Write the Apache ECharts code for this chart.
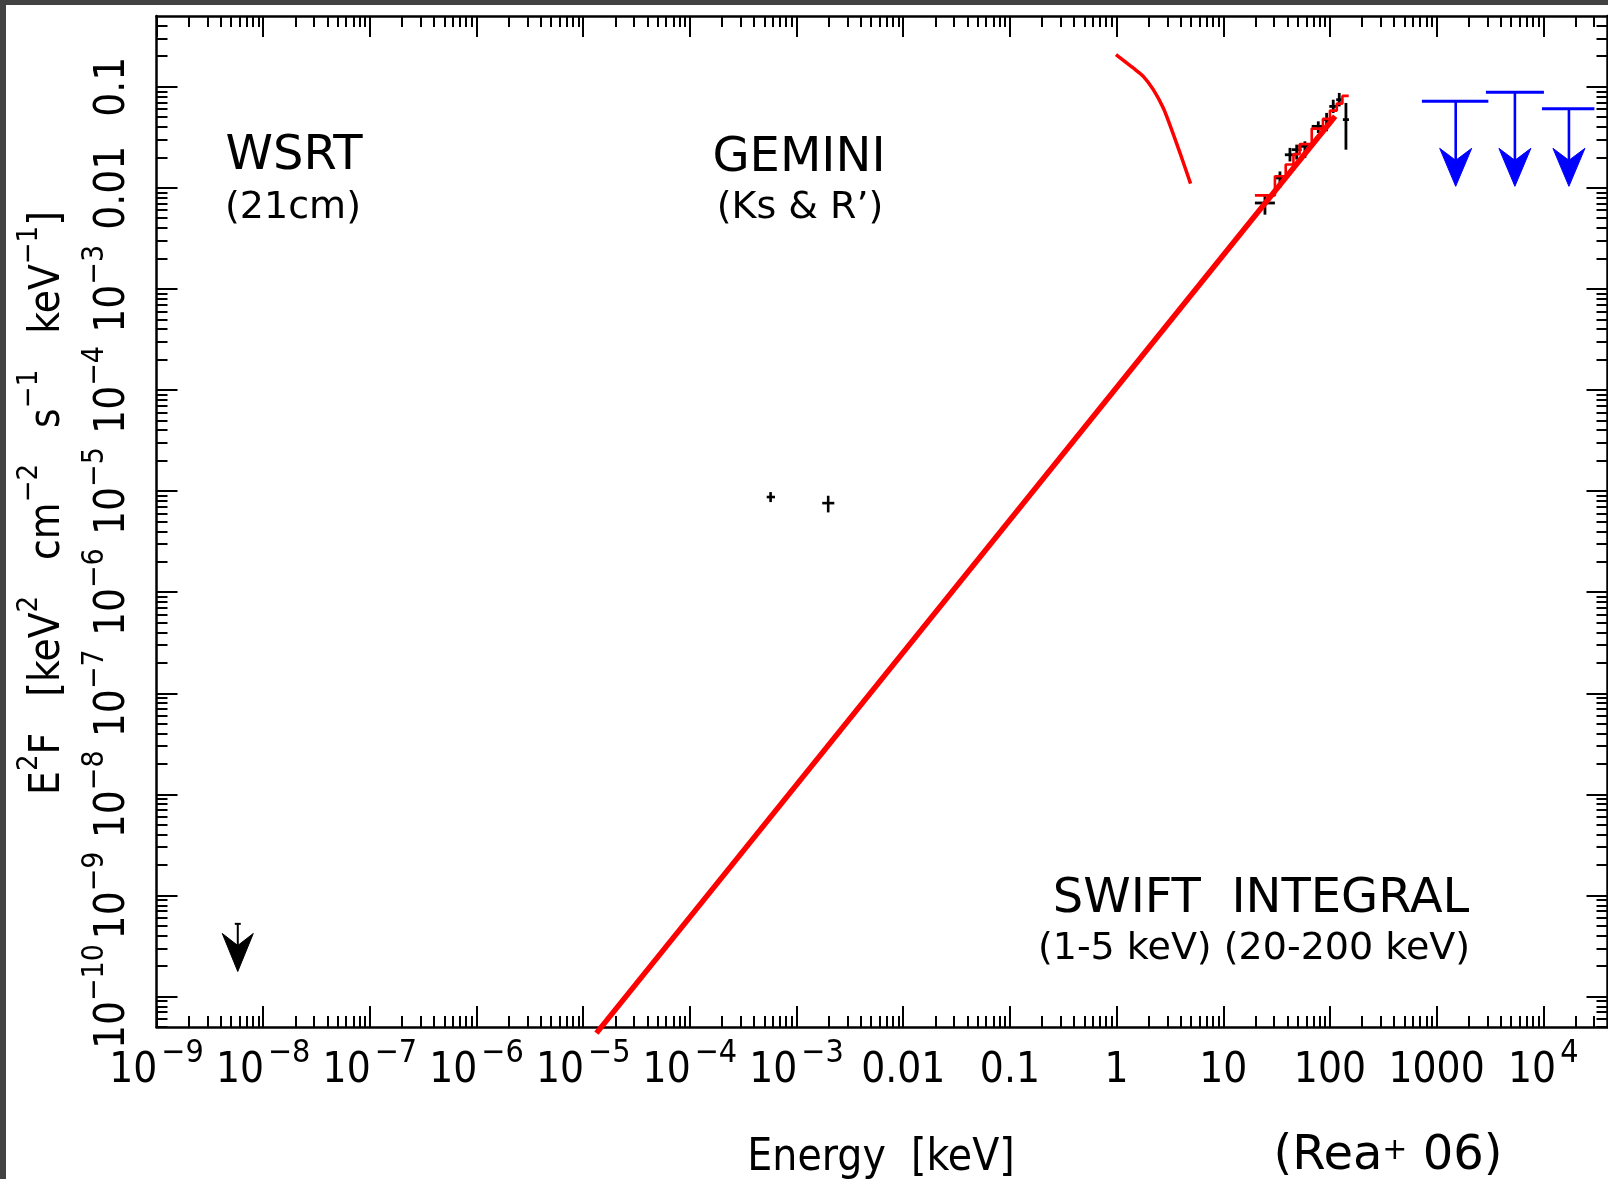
<!DOCTYPE html>
<html><head><meta charset="utf-8">
<script src="https://cdn.jsdelivr.net/npm/echarts@6.0.0/dist/echarts.min.js"></script>
<style>
html,body{margin:0;padding:0;background:#424242;width:1608px;height:1179px;overflow:hidden;}
#paper{position:absolute;left:6px;top:5px;width:1602px;height:1174px;background:#fff;}
#chart{position:absolute;left:0;top:0;width:1608px;height:1179px;}
</style></head>
<body><div id="paper"></div><div id="chart"></div>
<script>
// ---------------- data ----------------
const xRange = [1e-9, 4e4];
const yRange = [5e-11, 0.5];

const xTickExp = [-9, -8, -7, -6, -5, -4, -3, -2, -1, 0, 1, 2, 3, 4];
const xTickLabels = ['10{s|\u22129}', '10{s|\u22128}', '10{s|\u22127}', '10{s|\u22126}', '10{s|\u22125}', '10{s|\u22124}', '10{s|\u22123}', '0.01', '0.1', '1', '10', '100', '1000', '10{s|4}'];
const yTickExp = [-10, -9, -8, -7, -6, -5, -4, -3, -2, -1];
const yTickLabels = ['10{s|\u221210}', '10{s|\u22129}', '10{s|\u22128}', '10{s|\u22127}', '10{s|\u22126}', '10{s|\u22125}', '10{s|\u22124}', '10{s|\u22123}', '0.01', '0.1'];

// power-law model (thick red line)
const plE = [1.33e-5, 112];
const plF = [4.35e-11, 0.051];

// soft X-ray model curve (1-5 keV)
const softE = [0.987, 1.43, 1.78, 2.21, 2.74, 3.28, 3.93, 4.94];
const softF = [0.2075, 0.153, 0.1265, 0.0934, 0.0615, 0.0376, 0.0221, 0.011];

// folded model step histogram (20-200 keV)
const stepEdges = [19.8, 30.5, 38.5, 45.5, 52, 67.5, 86, 100, 116, 131, 150];
const stepF = [0.0084, 0.0130, 0.0170, 0.0215, 0.0270, 0.0385, 0.048, 0.058, 0.068, 0.081];

// hard X-ray data points (crosses)
const hxE   = [24.6, 34.0, 42.2, 48.8, 58.3, 77.8, 93.1, 107.4, 122.3, 141.3];
const hxElo = [19.8, 30.5, 37.8, 43.8, 50.5, 67.5, 85.5, 98.6, 114.5, 132.3];
const hxEhi = [30.5, 39.3, 47.0, 54.3, 67.5, 86.5, 101.6, 117.2, 130.3, 150.7];
const hxF   = [7.07e-3, 0.0125, 0.0212, 0.0238, 0.0257, 0.0405, 0.0472, 0.0638, 0.0743, 0.0472];
const hxFlo = [5.42e-3, 9.95e-3, 0.0182, 0.0190, 0.0197, 0.0348, 0.0362, 0.0550, 0.0638, 0.0238];
const hxFhi = [8.55e-3, 0.0145, 0.0248, 0.0267, 0.0288, 0.0454, 0.0550, 0.0743, 0.0867, 0.069];

// GEMINI points
const gemE   = [5.71e-4, 1.98e-3];
const gemElo = [5.25e-4, 1.74e-3];
const gemEhi = [6.28e-4, 2.26e-3];
const gemF   = [8.73e-6, 7.6e-6];
const gemFlo = [7.78e-6, 6.15e-6];
const gemFhi = [9.77e-6, 8.99e-6];

// WSRT upper limit
const wsrtE = [5.78e-9];
const wsrtUL = [5.24e-10];
const wsrtTip = [1.77e-10];

// INTEGRAL upper limits
const intE   = [1510, 5420, 17400];
const intElo = [728, 2900, 9720];
const intEhi = [3055, 10140, 30150];
const intUL  = [0.0716, 0.0879, 0.0606];
const intTip = [0.01033, 0.01033, 0.01033];

// ---------------- chart ----------------
const LABEL_FONT = "'DejaVu Sans Condensed', 'DejaVu Sans', sans-serif";
const TEXT_FONT = "'DejaVu Sans', Verdana, sans-serif";
const GRID = {left: 156.5, top: 16, width: 1451, height: 1011, outerBoundsMode: 'none', containLabel: false};

const lxR = [Math.log10(xRange[0]), Math.log10(xRange[1])];
const lyR = [Math.log10(yRange[0]), Math.log10(yRange[1])];

const minorX = [];
for (let n = -9; n <= 4; n++) for (let k = 2; k <= 9; k++) {
  const v = Math.log10(k) + n;
  if (v <= lxR[1] + 1e-9) minorX.push(v);
}
const minorY = [];
for (let n = -11; n <= -1; n++) for (let k = 2; k <= 9; k++) {
  const v = Math.log10(k) + n;
  if (v >= lyR[0] - 1e-9 && v <= lyR[1] + 1e-9) minorY.push(v);
}

function findLabel(exps, labels, v) {
  const i = exps.findIndex(e => Math.abs(e - v) < 1e-6);
  return i >= 0 ? labels[i] : '';
}

function tickAxis(gridIndex, position, range, ticks, len, showLine, label) {
  return {
    gridIndex, type: 'value', position, min: range[0], max: range[1],
    splitLine: {show: false},
    axisLine: {show: showLine, onZero: false, lineStyle: {color: '#000', width: 2.5}},
    axisTick: {show: true, inside: true, length: len, customValues: ticks, lineStyle: {color: '#000', width: 2}},
    axisLabel: label || {show: false}
  };
}

const xLabel = {
  show: true, customValues: xTickExp, margin: 11,
  fontFamily: LABEL_FONT, fontSize: 42, lineHeight: 66, color: '#000',
  formatter: v => findLabel(xTickExp, xTickLabels, v),
  rich: {s: {fontFamily: LABEL_FONT, fontSize: 32, lineHeight: 32, verticalAlign: 'top', padding: [0, 0, 0, 4], color: '#000'}}
};
const yLabel = {
  show: true, customValues: yTickExp, margin: 10, rotate: 90,
  fontFamily: LABEL_FONT, fontSize: 42, lineHeight: 66, color: '#000',
  formatter: v => findLabel(yTickExp, yTickLabels, v),
  rich: {s: {fontFamily: LABEL_FONT, fontSize: 30, lineHeight: 30, verticalAlign: 'top', color: '#000'}}
};

const grids = [0, 1, 2, 3, 4].map(() => Object.assign({}, GRID));

const xAxes = [
  {gridIndex: 0, type: 'log', min: xRange[0], max: xRange[1], show: false},
  tickAxis(1, 'bottom', lxR, xTickExp, 21, true, xLabel),
  tickAxis(2, 'bottom', lxR, minorX, 11, false),
  tickAxis(3, 'top', lxR, xTickExp, 21, true),
  tickAxis(4, 'top', lxR, minorX, 11, false)
];
const yAxes = [
  {gridIndex: 0, type: 'log', min: yRange[0], max: yRange[1], show: false},
  tickAxis(1, 'left', lyR, yTickExp, 21, true, yLabel),
  tickAxis(2, 'left', lyR, minorY, 11, false),
  tickAxis(3, 'right', lyR, yTickExp, 21, true),
  tickAxis(4, 'right', lyR, minorY, 11, false)
];

function crossRender(color, width) {
  return function (params, api) {
    const xl = api.coord([api.value(1), api.value(3)]);
    const xh = api.coord([api.value(2), api.value(3)]);
    const yl = api.coord([api.value(0), api.value(4)]);
    const yh = api.coord([api.value(0), api.value(5)]);
    const style = {stroke: color, lineWidth: width};
    return {type: 'group', children: [
      {type: 'line', shape: {x1: xl[0], y1: xl[1], x2: xh[0], y2: xh[1]}, style},
      {type: 'line', shape: {x1: yl[0], y1: yl[1], x2: yh[0], y2: yh[1]}, style}
    ]};
  };
}

function arrowHead(tip, halfW, h, notch, color) {
  return {type: 'polygon', shape: {points: [
    [tip[0], tip[1]], [tip[0] - halfW, tip[1] - h], [tip[0], tip[1] - h + notch], [tip[0] + halfW, tip[1] - h]
  ]}, style: {fill: color, stroke: color, lineWidth: 1}};
}

const hxData = hxE.map((e, i) => [e, hxElo[i], hxEhi[i], hxF[i], hxFlo[i], hxFhi[i]]);
const gemData = gemE.map((e, i) => [e, gemElo[i], gemEhi[i], gemF[i], gemFlo[i], gemFhi[i]]);
const wsrtData = wsrtE.map((e, i) => [e, wsrtUL[i], wsrtTip[i]]);
const intData = intE.map((e, i) => [e, intElo[i], intEhi[i], intUL[i], intTip[i]]);
const stepData = stepEdges.map((e, i) => [e, stepF[Math.min(i, stepF.length - 1)]]);
const softData = softE.map((e, i) => [e, softF[i]]);
const plData = plE.map((e, i) => [e, plF[i]]);

const series = [
  {type: 'custom', name: 'hard X-ray data', xAxisIndex: 0, yAxisIndex: 0, data: hxData,
   encode: {x: [0, 1, 2], y: [3, 4, 5]}, renderItem: crossRender('#000', 2.8), silent: true},
  {type: 'custom', name: 'GEMINI', xAxisIndex: 0, yAxisIndex: 0, data: gemData,
   encode: {x: [0, 1, 2], y: [3, 4, 5]}, renderItem: crossRender('#000', 2.6), silent: true},
  {type: 'custom', name: 'WSRT', xAxisIndex: 0, yAxisIndex: 0, data: wsrtData,
   encode: {x: 0, y: [1, 2]}, silent: true,
   renderItem: function (params, api) {
     const top = api.coord([api.value(0), api.value(1)]);
     const tip = api.coord([api.value(0), api.value(2)]);
     const st = {stroke: '#000', lineWidth: 2};
     return {type: 'group', children: [
       {type: 'line', shape: {x1: top[0] - 3, y1: top[1], x2: top[0] + 3, y2: top[1]}, style: st},
       {type: 'line', shape: {x1: top[0], y1: top[1], x2: tip[0], y2: tip[1] - 20}, style: st},
       arrowHead(tip, 15.5, 38, 12, '#000')
     ]};
   }},
  {type: 'custom', name: 'INTEGRAL', xAxisIndex: 0, yAxisIndex: 0, data: intData,
   encode: {x: [0, 1, 2], y: [3, 4]}, silent: true,
   renderItem: function (params, api) {
     const l = api.coord([api.value(1), api.value(3)]);
     const r = api.coord([api.value(2), api.value(3)]);
     const c = api.coord([api.value(0), api.value(3)]);
     const tip = api.coord([api.value(0), api.value(4)]);
     return {type: 'group', children: [
       {type: 'line', shape: {x1: l[0], y1: l[1], x2: r[0], y2: r[1]}, style: {stroke: '#0000ff', lineWidth: 3}},
       {type: 'line', shape: {x1: c[0], y1: c[1], x2: tip[0], y2: tip[1] - 20}, style: {stroke: '#0000ff', lineWidth: 2.6}},
       arrowHead(tip, 16, 38, 12, '#0000ff')
     ]};
   }},
  {type: 'line', name: 'folded model', xAxisIndex: 0, yAxisIndex: 0, data: stepData, step: 'end',
   symbol: 'none', lineStyle: {color: '#ff0000', width: 2.6}, silent: true},
  {type: 'line', name: 'soft model', xAxisIndex: 0, yAxisIndex: 0, data: softData, smooth: 0.3,
   symbol: 'none', lineStyle: {color: '#ff0000', width: 3.5}, silent: true},
  {type: 'line', name: 'power law', xAxisIndex: 0, yAxisIndex: 0, data: plData, clip: false,
   symbol: 'none', lineStyle: {color: '#ff0000', width: 5.5}, silent: true}
];

function txt(text, x, y, size, font, extra) {
  return {type: 'text', x, y, silent: true, z: 100, style: Object.assign({
    text, fontSize: size, fontFamily: font, fill: '#000', align: 'center', verticalAlign: 'middle'
  }, extra || {})};
}

const graphic = [
  txt('WSRT', 294, 157, 48, TEXT_FONT),
  txt('(21cm)', 293, 208, 38, TEXT_FONT),
  txt('GEMINI', 799, 159, 48, TEXT_FONT),
  txt('(Ks & R\u2019)', 800, 208, 38, TEXT_FONT),
  txt('SWIFT  INTEGRAL', 1261, 900, 48, TEXT_FONT),
  txt('(1-5 keV) (20-200 keV)', 1254, 949.5, 38, TEXT_FONT),
  txt('(Rea{s|+} 06)', 1388, 1157, 48, TEXT_FONT, {lineHeight: 41,
     rich: {s: {fontSize: 30, lineHeight: 30, verticalAlign: 'top', fontFamily: TEXT_FONT, fill: '#000'}}}),
  txt('Energy  [keV]', 881, 1159, 44, LABEL_FONT),
  Object.assign(txt('E{s|2}F   [keV{s|2}   cm{s|\u22122}   s{s|\u22121}   keV{s|\u22121}]', 48.5, 503, 42, LABEL_FONT, {
     lineHeight: 68,
     rich: {s: {fontSize: 29, lineHeight: 29, verticalAlign: 'top', fontFamily: LABEL_FONT, fill: '#000'}}
  }), {rotation: Math.PI / 2})
];

const chart = echarts.init(document.getElementById('chart'), null, {renderer: 'canvas'});
chart.setOption({
  animation: false,
  backgroundColor: 'transparent',
  grid: grids,
  xAxis: xAxes,
  yAxis: yAxes,
  series,
  graphic
});
</script>
</body></html>
